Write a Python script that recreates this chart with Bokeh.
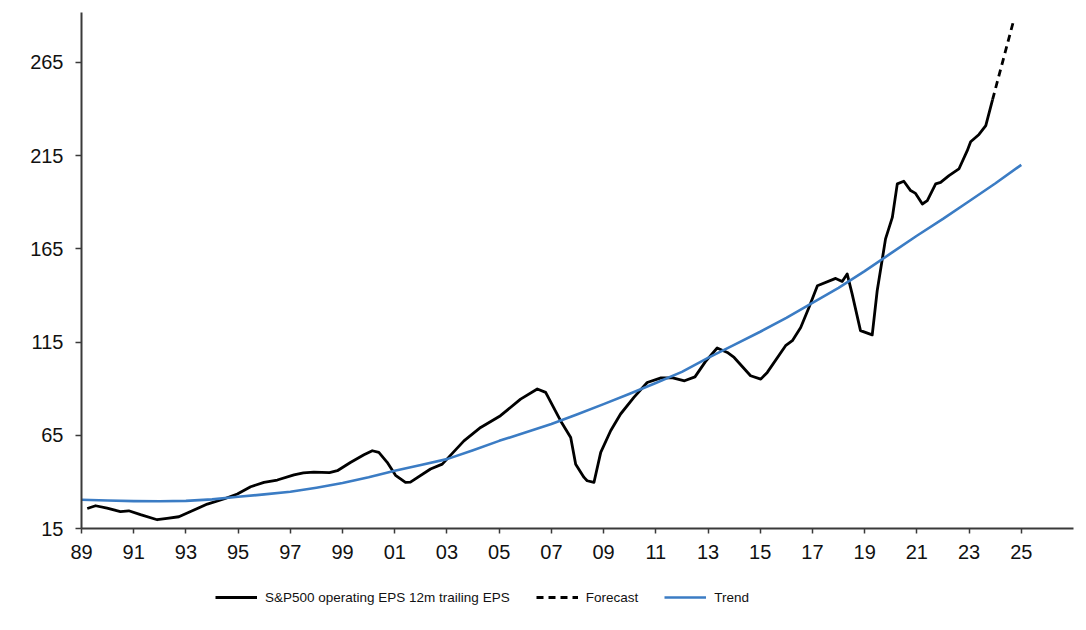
from bokeh.plotting import figure
from bokeh.models import Range1d, FixedTicker, Legend, LegendItem
from bokeh.layouts import column
from bokeh.embed import file_html
from bokeh.resources import INLINE

# ---- data ----
eps_year = [1989.22, 1989.54, 1989.98, 1990.49, 1990.81, 1991.26, 1991.9, 1992.28, 1992.73,
            1993.18, 1993.82, 1994.45, 1994.97, 1995.48, 1995.99, 1996.5, 1997.14, 1997.5,
            1997.9, 1998.5, 1998.8, 1999.3, 1999.82, 2000.14, 2000.39, 2000.71, 2001.03,
            2001.41, 2001.6, 2002.37, 2002.82, 2003.65, 2004.29, 2005.05, 2005.82, 2006.46,
            2006.78, 2007.35, 2007.74, 2007.93, 2008.25, 2008.37, 2008.63, 2008.89, 2009.27,
            2009.65, 2010.16, 2010.67, 2011.2, 2011.65, 2012.1, 2012.5, 2012.9, 2013.35,
            2013.74, 2014.0, 2014.63, 2015.02, 2015.27, 2015.97, 2016.23, 2016.55, 2016.87,
            2017.19, 2017.89, 2018.14, 2018.33, 2018.52, 2018.84, 2019.29, 2019.48, 2019.8,
            2020.06, 2020.25, 2020.5, 2020.76, 2020.95, 2021.21, 2021.4, 2021.72, 2021.91,
            2022.23, 2022.61, 2022.93, 2023.06, 2023.38, 2023.64, 2023.9]
eps_value = [25.7, 27.2, 25.9, 24.1, 24.5, 22.4, 19.7, 20.4, 21.3,
             24.1, 28.1, 30.8, 33.5, 37.4, 39.7, 41.0, 43.8, 44.8,
             45.2, 45.0, 46.0, 50.4, 54.5, 56.7, 55.8, 50.5, 43.5,
             39.7, 39.9, 46.9, 49.5, 62.0, 69.2, 75.5, 84.4, 89.8,
             88.0, 72.8, 63.8, 49.5, 42.4, 40.6, 39.7, 55.8, 67.4,
             76.4, 85.3, 93.3, 95.8, 95.8, 94.2, 96.3, 104.5, 111.8,
             109.4, 106.7, 96.9, 95.1, 98.7, 113.0, 115.7, 122.8, 133.6,
             145.2, 149.1, 147.5, 151.5, 140.8, 121.1, 118.8, 142.5, 170.3,
             181.8, 199.8, 201.2, 196.2, 194.7, 189.0, 190.8, 199.8, 200.6,
             204.2, 207.8, 217.6, 222.4, 226.3, 231.0, 245.0]

forecast_year = [2023.9, 2024.68]
forecast_value = [245.0, 286.0]

trend_year = list(range(1989, 2026))
trend_value = [30.4, 30.0, 29.7, 29.6, 29.8, 30.6, 32.0, 33.3, 34.7, 36.9, 39.4, 42.5,
               46.0, 49.0, 52.2, 57.0, 62.0, 66.5, 71.0, 76.3, 81.7, 87.3, 93.0, 99.0,
               106.5, 113.5, 120.5, 128.0, 136.0, 144.0, 153.0, 162.5, 172.0, 181.0,
               190.5, 200.0, 210.0]

x_ticks = list(range(1989, 2026, 2))
x_tick_labels = ["%02d" % (y % 100) for y in x_ticks]
y_ticks = [15, 65, 115, 165, 215, 265]

legend_labels = ["S&P500 operating EPS 12m trailing EPS", "Forecast", "Trend"]

FONT = "Liberation Sans"
AXIS_COLOR = "#3a3a3a"
BLUE = "#3b7cc4"
LW = 2.8
LW_T = 2.6

p = figure(width=1080, height=572, output_backend="svg", toolbar_location=None,
           x_range=Range1d(1989, 2027.0), y_range=Range1d(15, 291.7),
           min_border_left=81, min_border_right=7, min_border_top=12, min_border_bottom=44)
p.outline_line_color = None
p.background_fill_color = "white"
p.border_fill_color = "white"
p.xgrid.visible = False
p.ygrid.visible = False

p.line(eps_year, eps_value, line_color="black", line_width=LW, line_join="round")
p.line(forecast_year, forecast_value, line_color="black", line_width=LW, line_dash="7 5")
p.line(trend_year, trend_value, line_color=BLUE, line_width=LW_T, line_join="round")

for ax in (p.xaxis[0], p.yaxis[0]):
    ax.axis_line_color = AXIS_COLOR
    ax.axis_line_width = 2
    ax.major_tick_line_color = AXIS_COLOR
    ax.major_tick_line_width = 1.5
    ax.major_tick_in = 0
    ax.minor_tick_line_color = None
    ax.major_label_text_font = FONT
    ax.major_label_text_font_size = "20px"
    ax.major_label_text_color = "#111111"

p.xaxis.ticker = FixedTicker(ticks=x_ticks)
p.xaxis.major_label_overrides = {t: l for t, l in zip(x_ticks, x_tick_labels)}
p.xaxis.major_tick_out = 5
p.xaxis.major_label_standoff = 11

p.yaxis.ticker = FixedTicker(ticks=y_ticks)
p.yaxis.major_tick_out = 6
p.yaxis.major_label_standoff = 12

# ---- legend strip below the chart (series drawn out of view, only keys show) ----
lg = figure(width=1080, height=46, output_backend="svg", toolbar_location=None,
            x_range=Range1d(0, 1), y_range=Range1d(0, 1),
            x_axis_location=None, y_axis_location=None,
            min_border_left=0, min_border_right=0, min_border_top=0, min_border_bottom=0)
lg.outline_line_color = None
lg.xgrid.visible = False
lg.ygrid.visible = False
k1 = lg.line(eps_year, eps_value, line_color="black", line_width=LW)
k2 = lg.line(forecast_year, forecast_value, line_color="black", line_width=LW, line_dash="7 5")
k3 = lg.line(trend_year, trend_value, line_color=BLUE, line_width=LW_T)
legend = Legend(items=[LegendItem(label=legend_labels[0], renderers=[k1]),
                       LegendItem(label=legend_labels[1], renderers=[k2]),
                       LegendItem(label=legend_labels[2], renderers=[k3])],
                orientation="horizontal", location=(134, 11),
                label_text_font=FONT, label_text_font_size="13.5px",
                label_text_color="#111111",
                glyph_width=42, label_standoff=8, spacing=26,
                padding=0, margin=0, border_line_color=None,
                background_fill_alpha=0)
lg.add_layout(legend, "center")

layout = column(p, lg, spacing=0)
open("out.html", "w").write(file_html(layout, INLINE))
